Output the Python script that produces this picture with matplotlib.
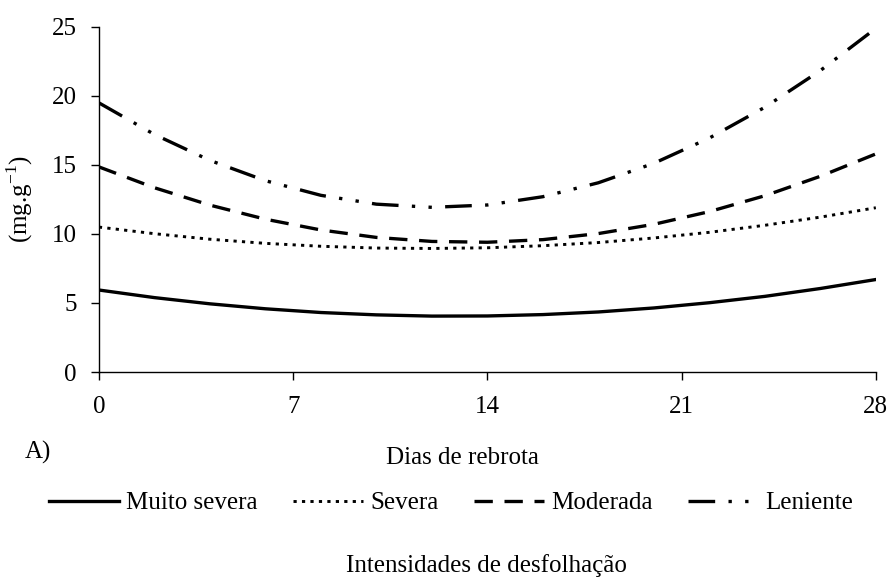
import matplotlib
matplotlib.use("Agg")
import matplotlib.pyplot as plt

plt.rcParams['font.family'] = ['Liberation Serif', 'DejaVu Serif']
plt.rcParams['mathtext.fontset'] = 'custom'
plt.rcParams['mathtext.rm'] = 'Liberation Serif'

# regrowth days and concentration for each defoliation intensity
dias = [0, 2, 4, 6, 8, 10, 12, 14, 16, 18, 20, 22, 24, 26, 28]
muito_severa = [5.94, 5.39, 4.94, 4.58, 4.31, 4.14, 4.05, 4.06, 4.16, 4.35, 4.64, 5.02, 5.48, 6.05, 6.70]
severa = [10.50, 10.02, 9.62, 9.32, 9.11, 8.98, 8.95, 9.00, 9.15, 9.38, 9.71, 10.12, 10.63, 11.22, 11.90]
moderada = [14.86, 13.35, 12.09, 11.07, 10.29, 9.75, 9.46, 9.40, 9.59, 10.03, 10.70, 11.62, 12.77, 14.18, 15.80]
leniente = [19.50, 17.21, 15.33, 13.86, 12.80, 12.16, 11.93, 12.10, 12.70, 13.71, 15.12, 16.95, 19.18, 21.84, 24.90]

xticks = [0, 7, 14, 21, 28]
yticks = [0, 5, 10, 15, 20, 25]

fig = plt.figure(figsize=(8.91, 5.79), dpi=100)
ax = fig.add_axes([0.111, 0.3575, 0.872, 0.596])

ax.plot(dias, muito_severa, color='black', lw=2.4, label='Muito severa')
ax.plot(dias, severa, color='black', lw=2.1, dashes=(1.1, 1.8), label='Severa')
ax.plot(dias, moderada, color='black', lw=2.4, dashes=(5.5, 3.5), label='Moderada')
ax.plot(dias, leniente, color='black', lw=2.4, dashes=(8, 4, 1, 4, 1, 4), label='Leniente')

ax.set_xlim(0, 28)
ax.set_ylim(0, 25)
ax.set_xticks(xticks)
ax.set_yticks(yticks)
ax.spines['top'].set_visible(False)
ax.spines['right'].set_visible(False)
for s in ['left', 'bottom']:
    ax.spines[s].set_linewidth(1.0)
ax.tick_params(direction='out', length=6, width=1, labelsize=18)
ax.tick_params(axis='y', pad=10)
ax.tick_params(axis='x', pad=11)
ax.set_ylabel('(mg.g$^{\\mathregular{-1}}$)', fontsize=18, labelpad=12)

fig.text(25 / 891, 1 - 452 / 579, 'A)', fontsize=18, ha='left', va='center')
fig.text(462 / 891, 1 - 458 / 579, 'Dias de rebrota', fontsize=18, ha='center', va='center')

handles, labels = ax.get_legend_handles_labels()
fig.legend(handles, labels, loc='center', bbox_to_anchor=(451 / 891, 1 - 503 / 579),
           ncol=4, frameon=False, fontsize=18, handlelength=2.8, handletextpad=0.3,
           columnspacing=1.4)

fig.text(486 / 891, 1 - 566 / 579, 'Intensidades de desfolhação', fontsize=18,
         ha='center', va='center')

fig.savefig('out.png', dpi=100)
